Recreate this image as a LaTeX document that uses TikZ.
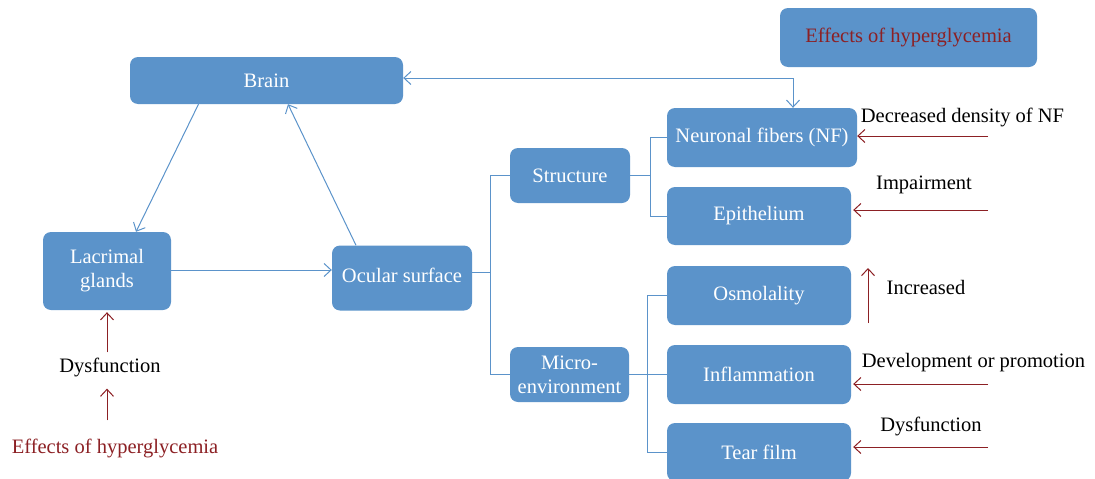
\documentclass[tikz,border=0pt]{standalone}
\usepackage{fontspec}
\setmainfont{Liberation Serif}
\usetikzlibrary{arrows.meta,positioning}
\definecolor{boxblue}{RGB}{91,147,202}
\definecolor{darkred}{RGB}{140,32,36}
\tikzstyle{block} = [rectangle, fill=boxblue, rounded corners=8pt, text=white,
 align=center, inner sep=0pt]
\tikzstyle{label} = [inner sep=0pt, anchor=base]
\tikzstyle{link} = [draw=boxblue, line width=1pt]
\tikzstyle{tip} = [-{Straight Barb[length=7pt,width=13pt]}]
\tikzstyle{effect} = [draw=darkred, line width=1pt, -{Straight Barb[length=7pt,width=13pt]}]

\begin{document}
\begin{tikzpicture}[x=1pt, y=-1pt, font=\fontsize{20.5}{24}\selectfont]
\useasboundingbox (0,0) rectangle (1095,479);
\clip (0,0) rectangle (1095,479);

% boxes
\node[block, minimum width=273pt, minimum height=47pt] (brain) at (266.5,80.5) {Brain};
\node[block, minimum width=257pt, minimum height=59pt, text=darkred] (hyptop) at (908.5,37.5) {Effects of hyperglycemia};
\node[block, minimum width=128pt, minimum height=78pt] (lacrimal) at (107,271) {Lacrimal\\glands};
\node[block, minimum width=140pt, minimum height=65pt] (ocular) at (402,278) {\raisebox{5pt}{Ocular surface}};
\node[block, minimum width=120pt, minimum height=55pt] (structure) at (570,175.5) {Structure};
\node[block, minimum width=119pt, minimum height=55pt] (micro) at (569.5,374.5) {Micro-\\environment};
\node[block, minimum width=190pt, minimum height=59pt] (nf) at (762,137.5) {Neuronal fibers (NF)};
\node[block, minimum width=184pt, minimum height=58pt] (epi) at (759,216) {Epithelium};
\node[block, minimum width=184pt, minimum height=59pt] (osmo) at (759,295.5) {Osmolality};
\node[block, minimum width=184pt, minimum height=59pt] (infl) at (759,374.5) {Inflammation};
\node[block, minimum width=184pt, minimum height=58pt] (tear) at (759,452) {Tear film};

% labels
\node[label] (lacdys) at (110,372) {Dysfunction};
\node[label, text=darkred] (hypleft) at (115,453) {Effects of hyperglycemia};
\node[label] (nflab) at (962.5,122) {Decreased density of NF};
\node[label] (epilab) at (924,189) {Impairment};
\node[label] (osmolab) at (926,294) {Increased};
\node[label] (infllab) at (973.5,367) {Development or promotion};
\node[label] (tearlab) at (931,431) {Dysfunction};

% blue connectors
\draw[link, tip] ([xshift=-68pt]brain.south) -- ([xshift=29pt]lacrimal.north);
\draw[link, tip] ([xshift=-46pt]ocular.north) -- ([xshift=21.5pt]brain.south);
\draw[link, tip] ([yshift=1pt]lacrimal.east) -- ([yshift=1pt]lacrimal.east -| ocular.west);
\draw[link, {Straight Barb[length=7pt,width=13pt]}-{Straight Barb[length=7pt,width=13pt]}]
 ([yshift=2.5pt]brain.east) -| ([xshift=31pt]nf.north);

\draw[link] ([yshift=6pt]ocular.east) -- ++(18,0) |- (structure.west);
\draw[link] ([yshift=6pt]ocular.east) ++(18,0) |- (micro.west);
\draw[link] (structure.east) -- ++(20,0) |- (nf.west);
\draw[link] (structure.east) ++(20,0) |- (epi.west);
\draw[link] (micro.east) -- (infl.west);
\draw[link] (osmo.west) -| ([xshift=-19pt]tear.west) -- (tear.west);

% effects of hyperglycemia
\coordinate (nfsrc) at (988,136);
\coordinate (episrc) at (988,210);
\coordinate (osmosrc) at (868,323);
\coordinate (osmoend) at (868,268);
\coordinate (inflsrc) at (988,384);
\coordinate (tearsrc) at (988,447);
\draw[effect] (nfsrc) -- (nfsrc -| nf.east);
\draw[effect] (episrc) -- ([xshift=2pt]episrc -| epi.east);
\draw[effect] (osmosrc) -- (osmoend);
\draw[effect] (inflsrc) -- ([xshift=2pt]inflsrc -| infl.east);
\draw[effect] (tearsrc) -- ([xshift=2pt]tearsrc -| tear.east);
\draw[effect] ([yshift=5pt]lacdys.north -| lacrimal.south) -- ([yshift=-2pt]lacrimal.south);
\draw[effect] ([yshift=18pt]hypleft.north -| lacrimal.south) -- ([yshift=-12pt]lacdys.south -| lacrimal.south);

\end{tikzpicture}
\end{document}
